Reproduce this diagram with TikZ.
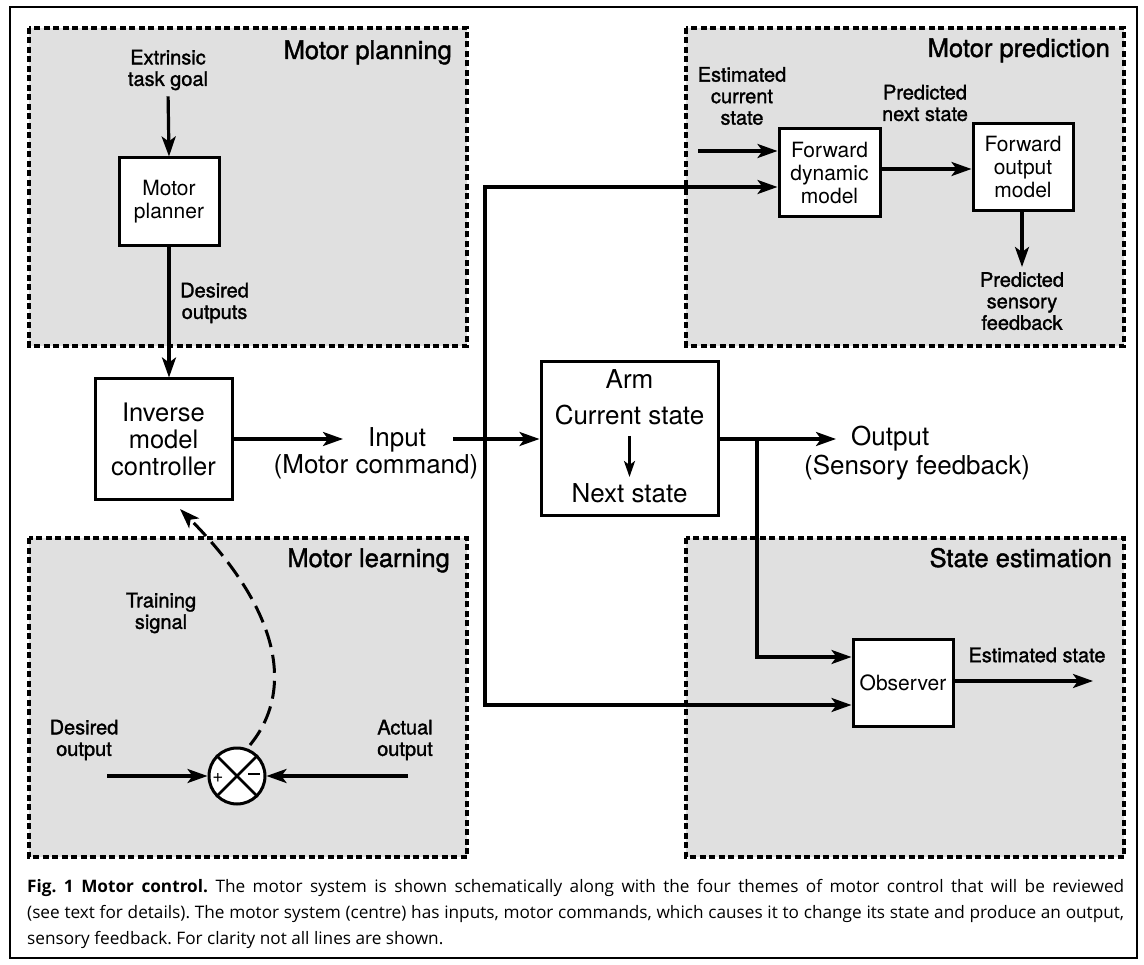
\documentclass[tikz,border=0pt]{standalone}
\usepackage{fontspec}
\setmainfont{TeX Gyre Heros}
\newfontfamily\heavy[FakeBold=1.5]{TeX Gyre Heros}
\newfontfamily\capfont{Open Sans}
\usetikzlibrary{arrows.meta}
\newcommand\fsz[2]{\fontsize{#1}{#2}\selectfont}

\begin{document}
\frenchspacing
\begin{tikzpicture}[x=1pt,y=-1pt,
  panel/.style={draw=black, line width=3.4pt, dash pattern=on 6pt off 3.5pt, fill=black!12},
  blk/.style={draw, line width=3pt, fill=white, align=center, inner sep=0pt, font=\fsz{21}{23}},
  lbl/.style={align=center, inner sep=0pt, font=\heavy\fsz{20}{21.5}},
  big/.style={align=center, inner sep=0pt, font=\fsz{26}{28}},
  ttl/.style={anchor=base east, inner sep=0pt, font=\heavy\fsz{25.5}{28}},
  tip/.tip={Stealth[length=20pt,width=14pt,inset=5pt]},
  conn/.style={line width=3.2pt, -tip},
  signs/.style={inner sep=0pt, font=\fsz{19}{19}},
  captxt/.style={anchor=west, inner sep=0pt, font=\capfont\fsz{17.2}{26}},
]
% page and outer frame
\fill[white] (0,0) rectangle (1144,965);
\useasboundingbox (0,0) rectangle (1144,965);
\draw[line width=1.8pt] (10,7) rectangle (1137,958);

% the four themed panels
\draw[panel] (29,28) rectangle (467,346);
\draw[panel] (686,28) rectangle (1124,346);
\draw[panel] (29,538) rectangle (467,857);
\draw[panel] (686,538) rectangle (1124,857);

\node[ttl] (tplan) at (452,59) {Motor planning};
\node[ttl] (tpred) at (1110,57) {Motor prediction};
\node[ttl] (tlearn) at (450,567) {Motor learning};
\node[ttl] (test) at (1112,567) {State estimation};

% motor planning
\node[lbl] (goal) at (168,70) {Extrinsic\\task goal};
\node[blk, minimum width=100pt, minimum height=88pt] (planner) at (169,202) {Motor\\planner};
\node[lbl, anchor=west] (desired) at (180,303) {Desired\\outputs};
\draw[conn, shorten <=6pt] (goal.south) -- (planner.north);

% inverse model and motor command
\node[blk, minimum width=137pt, minimum height=121pt, font=\fsz{25.5}{27}] (inverse) at (163.5,439.5) {Inverse\\model\\controller};
\draw[conn] (planner.south) -- (planner.south |- inverse.north);
\node[big, anchor=base] (input) at (397,447) {Input};
\node[big, anchor=base] (mcmd) at (376,474) {(Motor command)};
\coordinate (intip) at (343,439);
\draw[conn] (inverse.east |- intip) -- (intip);

% arm
\node[draw, line width=3pt, fill=white, minimum width=177pt, minimum height=154pt, inner sep=0pt] (arm) at (629.5,439) {};
\node[big, anchor=base] (armt) at (629.5,389) {Arm};
\node[big, anchor=base] (cur) at (629.5,425) {Current state};
\node[big, anchor=base] (nxt) at (629.5,503) {Next state};
\draw[line width=2.6pt, -{Stealth[length=16pt,width=11pt,inset=4pt]}] (629.5,436) -- (629.5,477);
\coordinate (instart) at (453,439);
\draw[conn] (instart) -- (arm.west);

% output
\coordinate (outtip) at (836,439);
\draw[conn] (arm.east) -- (outtip);
\node[big, anchor=base west] (outp) at (851,446) {Output};
\node[big, anchor=base] (sens) at (917,475) {(Sensory feedback)};

% motor prediction
\node[lbl] (estcur) at (742,96) {Estimated\\current\\state};
\node[blk, minimum width=101pt, minimum height=88pt] (fdm) at (829.5,173) {Forward\\dynamic\\model};
\node[blk, minimum width=100pt, minimum height=87pt] (fom) at (1023,167.5) {Forward\\output\\model};
\node[lbl] (prednext) at (925,103) {Predicted\\next state};
\node[lbl, anchor=north] (predsens) at (1022,272) {Predicted\\sensory\\feedback};
\coordinate (estin) at (698,151);
\draw[conn] (estin) -- (fdm.west |- estin);
\draw[conn] (fdm.east |- 0,169) -- (fom.west |- 0,169);
\draw[conn] (fom.south -| 1022,0) -- (1022,267);

% state estimation
\node[blk, minimum width=100pt, minimum height=87pt] (obs) at (903,682.5) {Observer};
\node[lbl] (eststate) at (1037,655) {Estimated state};
\coordinate (estout) at (1093,681);
\draw[conn] (obs.east |- estout) -- (estout);

% motor command copies to the forward model and the observer
\coordinate (cmdtop) at (485,187);
\coordinate (cmdbot) at (485,705);
\draw[conn] (cmdbot) -- (cmdtop) -- (fdm.west |- cmdtop);
\draw[conn] (cmdtop) -- (cmdbot) -- (obs.west |- cmdbot);

% sensory feedback copy to the observer
\coordinate (fbsplit) at (757,439);
\draw[conn] (fbsplit) -- (757,657) -- (obs.west |- 0,657);

% motor learning
\node[lbl] (train) at (161,613) {Training\\signal};
\node[draw, circle, line width=3pt, fill=white, minimum size=56pt, inner sep=0pt] (sum) at (237,776) {};
\draw[line width=2.6pt] (sum.north west) -- (sum.south east);
\draw[line width=2.6pt] (sum.north east) -- (sum.south west);
\node[signs] (plus) at (218,778) {+};
\node[signs] (minus) at (254,776) {\rule[5pt]{12pt}{2pt}};
\node[lbl] (desout) at (84,740) {Desired\\output};
\node[lbl] (actout) at (405,740) {Actual\\output};
\coordinate (desin) at (107,776);
\coordinate (actin) at (408,776);
\draw[conn] (desin) -- (sum.west);
\draw[conn] (actin) -- (sum.east);
\coordinate (trtip) at (180,509);
\draw[line width=3pt, dash pattern=on 18pt off 8pt, -tip]
  (250,745) .. controls (295,690) and (280,610) .. (trtip);

% caption
\node[captxt] (cap1) at (27,888)
  {\makebox[1097pt][s]{\textbf{Fig.~1 Motor control.} The motor system is shown schematically along with the four themes of motor control that will be reviewed}};
\node[captxt] (cap2) at (27,914)
  {\makebox[1097pt][s]{(see text for details). The motor system (centre) has inputs, motor commands, which causes it to change its state and produce an output,}};
\node[captxt] (cap3) at (27,940)
  {sensory feedback. For clarity not all lines are shown.};
\end{tikzpicture}
\end{document}
